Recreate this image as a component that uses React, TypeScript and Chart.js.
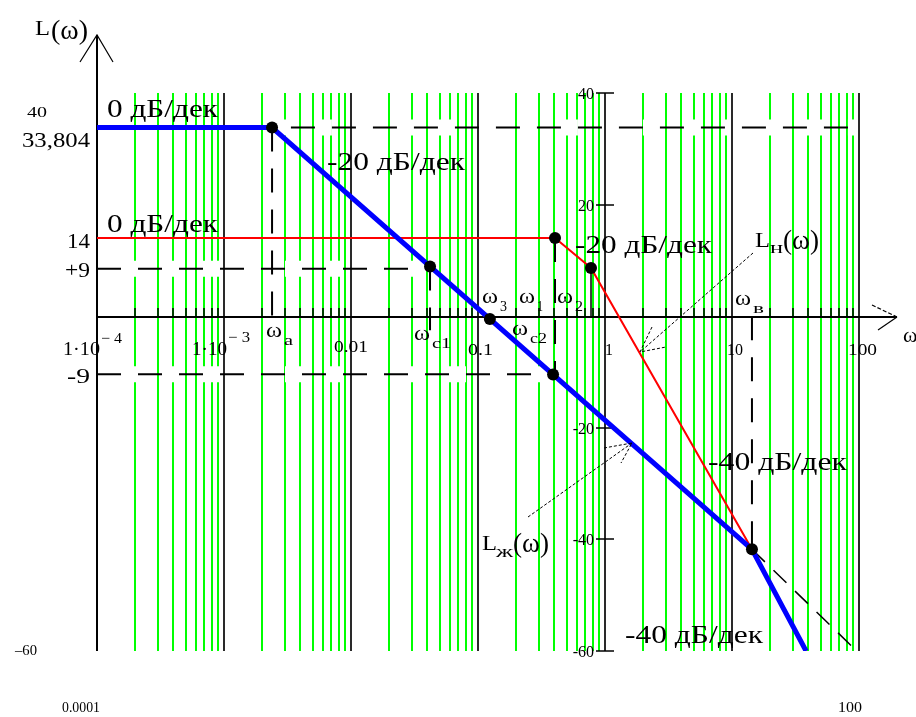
import React, { useEffect, useRef } from "react";
import { Chart, registerables } from "chart.js";

Chart.register(...registerables);

// ---- axis ranges / ticks ----
const X_MIN = 1e-4;
const X_MAX = 100;
const Y_MIN = -60;
const Y_MAX = 40;
const decades = [1e-4, 1e-3, 0.01, 0.1, 1, 10, 100];
const minorMultipliers = [2, 3, 4, 5, 6, 7, 8, 9];
const rightAxisTicks = [40, 20, -20, -40, -60];

// ---- characteristic frequencies / levels ----
const omegaA = 0.00239;
const omegaC1 = 0.0419;
const omega3 = 0.124;
const omegaC2 = 0.39;
const omega1 = 0.404;
const omega2 = 0.776;
const omegaV = 14.36;
const levelTop = 33.804;
const levelRed = 14;
const levelPlus = 8.5;
const levelMinus = -10.4;

// ---- series ----
const blueCurve = [
  { x: 1e-4, y: 33.804 },
  { x: 0.00239, y: 33.804 },
  { x: 14.36, y: -41.78 },
  { x: 38.3, y: -60 },
];
const redCurve = [
  { x: 1e-4, y: 14 },
  { x: 0.404, y: 14 },
  { x: 0.776, y: 8.64 },
  { x: 14.36, y: -41.78 },
  { x: 38.3, y: -60 },
];
const keyPoints = [
  { x: 0.00239, y: 33.804 },
  { x: 0.0419, y: 8.92 },
  { x: 0.124, y: -0.5 },
  { x: 0.39, y: -10.46 },
  { x: 0.404, y: 14 },
  { x: 0.776, y: 8.64 },
  { x: 14.36, y: -41.78 },
];
const dashedExtension = [
  { x: 14.36, y: -41.78 },
  { x: 96, y: -60 },
];
const hTop = [
  { x: 0.0016, y: 33.804 },
  { x: 100, y: 33.804 },
];
const hPlus = [
  { x: 1e-4, y: 8.5 },
  { x: 0.0419, y: 8.5 },
];
const hMinus = [
  { x: 1e-4, y: -10.4 },
  { x: 0.39, y: -10.4 },
];
const vA = [
  { x: 0.00239, y: 33.804 },
  { x: 0.00239, y: -0.4 },
];
const vC1 = [
  { x: 0.0419, y: 8.92 },
  { x: 0.0419, y: -2.5 },
];
const v1 = [
  { x: 0.404, y: 14 },
  { x: 0.404, y: -10.46 },
];
const v2 = [
  { x: 0.776, y: 8.64 },
  { x: 0.776, y: 0 },
];
const vV = [
  { x: 14.36, y: 0 },
  { x: 14.36, y: -41.78 },
];

const SERIF = '"Liberation Serif", "DejaVu Serif", serif';
const DASH = [24, 17];

function txt(ctx: CanvasRenderingContext2D, s: string, x: number, y: number, size: number, w?: number, align: CanvasTextAlign = "left") {
  ctx.font = `${size}px ${SERIF}`;
  ctx.textAlign = align;
  ctx.textBaseline = "alphabetic";
  if (w) {
    const m = ctx.measureText(s).width;
    ctx.save();
    ctx.translate(x, y);
    ctx.scale(w / m, 1);
    ctx.fillText(s, 0, 0);
    ctx.restore();
  } else {
    ctx.fillText(s, x, y);
  }
}

function line(ctx: CanvasRenderingContext2D, pts: number[][], width = 1, color = "#000", dash: number[] = []) {
  ctx.save();
  ctx.strokeStyle = color;
  ctx.lineWidth = width;
  ctx.setLineDash(dash);
  ctx.beginPath();
  pts.forEach((p, i) => (i === 0 ? ctx.moveTo(p[0], p[1]) : ctx.lineTo(p[0], p[1])));
  ctx.stroke();
  ctx.restore();
}

const backgroundPlugin = {
  id: "bodeBackground",
  beforeDatasetsDraw(chart: any) {
    const { ctx, chartArea, scales } = chart;
    const xs = scales.x;
    const ys = scales.y;
    const top = chartArea.top;
    const bottom = chartArea.bottom;
    ctx.save();
    ctx.fillStyle = "#fff";
    ctx.fillRect(0, 0, chart.width, chart.height);
    // green minor grid
    const minorPx: number[] = [];
    decades.slice(0, -1).forEach((d) => {
      minorMultipliers.forEach((k) => {
        const px = Math.round(xs.getPixelForValue(d * k));
        minorPx.push(px);
        line(ctx, [[px, top], [px, bottom]], 2, "#00ff00");
      });
    });
    // white gaps of dashed horizontal lines
    [hTop, hPlus, hMinus].forEach((seg) => {
      const x0 = xs.getPixelForValue(seg[0].x);
      const x1 = xs.getPixelForValue(seg[1].x);
      const py = ys.getPixelForValue(seg[0].y);
      ctx.save();
      ctx.strokeStyle = "#fff";
      ctx.lineWidth = 16;
      ctx.setLineDash([DASH[1], DASH[0]]);
      ctx.lineDashOffset = DASH[1];
      ctx.beginPath();
      ctx.moveTo(x0, py);
      ctx.lineTo(x1, py);
      ctx.stroke();
      ctx.restore();
    });
    // decade lines
    decades.slice(1).forEach((d) => {
      const px = Math.round(xs.getPixelForValue(d));
      line(ctx, [[px, top], [px, bottom]], 2, "#2a2a2a");
    });
    // main y axis with arrow
    const yAx = Math.round(xs.getPixelForValue(X_MIN));
    line(ctx, [[yAx, 35], [yAx, bottom]], 2, "#000");
    line(ctx, [[yAx - 17, 62], [yAx, 35], [yAx + 16, 62]], 1.2, "#000");
    // x axis with arrow
    const y0 = Math.round(ys.getPixelForValue(0)) + 1;
    line(ctx, [[yAx, y0], [897, y0]], 2, "#000");
    line(ctx, [[872, y0 - 12], [897, y0]], 1.2, "#000", [4, 2]);
    line(ctx, [[878, y0 + 13], [897, y0]], 1.2, "#000");
    minorPx.forEach((px) => line(ctx, [[px, y0 - 9], [px, y0]], 1.5, "#000"));
    // secondary y axis at omega = 1
    const sx = Math.round(xs.getPixelForValue(1));
    rightAxisTicks.forEach((v) => {
      const py = Math.round(ys.getPixelForValue(v));
      line(ctx, [[sx - 9, py], [sx + 9, py]], 1.5, "#000");
      ctx.fillStyle = "#000";
      txt(ctx, String(v).replace("-", "-"), sx - 11, py + 6, 16, undefined, "right");
    });
    ctx.restore();
  },
  afterDatasetsDraw(chart: any) {
    const { ctx } = chart;
    ctx.save();
    ctx.fillStyle = "#000";
    // slope annotations
    txt(ctx, "0 дБ/дек", 107, 117, 25, 111);
    txt(ctx, "0 дБ/дек", 107, 232, 25, 111);
    txt(ctx, "-20 дБ/дек", 327, 170, 25, 138);
    txt(ctx, "-20 дБ/дек", 575, 253, 25, 137);
    txt(ctx, "-40 дБ/дек", 708, 470, 25, 139);
    txt(ctx, "-40 дБ/дек", 625, 643, 25, 138);
    // left level labels
    txt(ctx, "40", 27, 117, 14, 20);
    txt(ctx, "33,804", 22, 147, 21, 68);
    txt(ctx, "14", 67, 248, 22, 23);
    txt(ctx, "+9", 65, 277, 22, 25);
    txt(ctx, "-9", 67, 383, 22, 23);
    txt(ctx, "\u201360", 15, 655, 14, 22);
    txt(ctx, "0.0001", 62, 712, 15, 38);
    txt(ctx, "100", 838, 712, 15, 24);
    // x tick labels
    txt(ctx, "1\u00b710", 63, 355, 18, 37);
    txt(ctx, "\u2212 4", 101, 343, 15, 21);
    txt(ctx, "1\u00b710", 192, 355, 18, 35);
    txt(ctx, "\u2212 3", 228, 342, 15, 22);
    txt(ctx, "0.01", 334, 352, 17, 34);
    txt(ctx, "0.1", 468, 355, 17, 25);
    txt(ctx, "1", 605, 355, 17, 8);
    txt(ctx, "10", 727, 355, 17, 16);
    txt(ctx, "100", 848, 355, 17, 29);
    // axis titles
    txt(ctx, "L", 35, 35, 22, 15);
    txt(ctx, "(\u03c9)", 51, 39, 27, 37);
    txt(ctx, "\u03c9", 903, 342, 22);
    // omega labels
    const om = (sub: string, x: number, y: number, sw: number) => {
      txt(ctx, "\u03c9", x, y, 21, 16);
      txt(ctx, sub, x + 18, y + 8, 15, sw);
    };
    om("а", 266, 337, 9);
    om("c1", 414, 340, 19);
    om("3", 482, 303, 7);
    om("1", 519, 303, 6);
    om("2", 557, 303, 8);
    om("c2", 512, 335, 17);
    om("в", 735, 305, 11);
    // L_н(ω)
    txt(ctx, "L", 755, 247, 22, 15);
    txt(ctx, "н", 770, 253, 16, 13);
    txt(ctx, "(\u03c9)", 783, 249, 28, 36);
    // L_ж(ω)
    txt(ctx, "L", 482, 550, 22, 15);
    txt(ctx, "ж", 496, 557, 16, 17);
    txt(ctx, "(\u03c9)", 513, 552, 28, 36);
    // annotation arrows
    line(ctx, [[753, 253], [640, 352]], 1, "#000", [3, 2]);
    line(ctx, [[652, 327], [640, 352], [666, 347]], 1, "#000", [3, 2]);
    line(ctx, [[528, 517], [632, 443]], 1, "#000", [3, 2]);
    line(ctx, [[604, 448], [632, 443], [621, 463]], 1, "#000", [3, 2]);
    ctx.restore();
  },
};

function lineSet(data: any[], color: string, width: number, dash: number[] = [], order = 5) {
  return {
    data,
    showLine: true,
    borderColor: color,
    backgroundColor: color,
    borderWidth: width,
    borderDash: dash,
    pointRadius: 0,
    fill: false,
    tension: 0,
    order,
  };
}

export default function App() {
  const ref = useRef<HTMLCanvasElement | null>(null);
  useEffect(() => {
    if (!ref.current) return;
    const chart = new Chart(ref.current, {
      type: "scatter",
      data: {
        datasets: [
          lineSet(hTop, "#000", 2, DASH, 6),
          lineSet(hPlus, "#000", 2, DASH, 6),
          lineSet(hMinus, "#000", 2, DASH, 6),
          lineSet(vA, "#000", 2, DASH, 6),
          lineSet(vC1, "#000", 2, DASH, 6),
          lineSet(v1, "#000", 2, DASH, 6),
          lineSet(v2, "#000", 1.5, [], 6),
          lineSet(vV, "#000", 2, DASH, 6),
          lineSet(dashedExtension, "#000", 1.5, [18, 12], 6),
          lineSet(redCurve, "#ff0000", 2, [], 4),
          lineSet(blueCurve, "#0000ff", 5, [], 3),
          {
            data: keyPoints,
            showLine: false,
            pointRadius: 6,
            pointBackgroundColor: "#000",
            pointBorderColor: "#000",
            pointBorderWidth: 0,
            order: 1,
          },
        ] as any,
      },
      options: {
        animation: false,
        responsive: false,
        events: [],
        layout: { padding: { left: 97, right: 57, top: 93, bottom: 66 } },
        scales: {
          x: { type: "logarithmic", min: X_MIN, max: X_MAX, display: false },
          y: { type: "linear", min: Y_MIN, max: Y_MAX, display: false },
        },
        plugins: { legend: { display: false }, tooltip: { enabled: false } },
      } as any,
      plugins: [backgroundPlugin],
    });
    return () => chart.destroy();
  }, []);
  return (
    <div style={{ position: "absolute", left: 0, top: 0, width: 916, height: 717, background: "#fff" }}>
      <canvas ref={ref} width={916} height={717} />
    </div>
  );
}
